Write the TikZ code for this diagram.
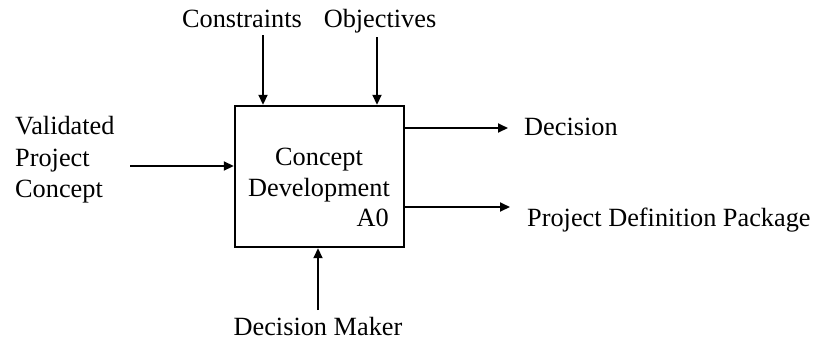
\documentclass[tikz,border=0pt]{standalone}
\usepackage{fontspec}
\setmainfont{Liberation Serif}
\usetikzlibrary{arrows.meta}
\begin{document}
\begin{tikzpicture}[x=1bp,y=-1bp,
  lbl/.style={font=\fontsize{26.4}{32}\selectfont, inner sep=0pt},
  flow/.style={line width=1.8bp, -{Triangle[length=10bp,width=9bp]}},
  act/.style={draw, line width=2.4bp, minimum width=169bp, minimum height=141bp, inner sep=0pt}]
\useasboundingbox (0,0) rectangle (819,341);
% activity box
\node[act] (box) at (319.5,176.5) {};
\node[lbl, anchor=base] (t1) at (319,165) {Concept};
\node[lbl, anchor=base] (t2) at (319,196) {Development};
\node[lbl, anchor=base east] (t3) at (389,226) {A0};
% labels
\node[lbl, anchor=base] (con) at (242,27) {Constraints};
\node[lbl, anchor=base] (obj) at (380,27) {Objectives};
\node[lbl, anchor=base west] (v1) at (15,134) {Validated};
\node[lbl, anchor=base west] (v2) at (15,166) {Project};
\node[lbl, anchor=base west] (v3) at (15,197) {Concept};
\node[lbl, anchor=base west] (dec) at (524,135) {Decision};
\node[lbl, anchor=base west] (pdp) at (527,226) {Project Definition Package};
\node[lbl, anchor=base] (dm) at (318,335) {Decision Maker};
% arrow end points
\coordinate (cA) at (263,35);
\coordinate (oA) at (377,37);
\coordinate (iA) at (130,166);
\coordinate (mA) at (318,310);
\coordinate (dA) at (508,128);
\coordinate (pA) at (510,207);
\draw[flow] (cA) -- (cA |- box.north);
\draw[flow] (oA) -- (oA |- box.north);
\draw[flow] (iA) -- (iA -| box.west);
\draw[flow] (mA) -- (mA |- box.south);
\draw[flow] (dA -| box.east) -- (dA);
\draw[flow] (pA -| box.east) -- (pA);
\end{tikzpicture}
\end{document}
